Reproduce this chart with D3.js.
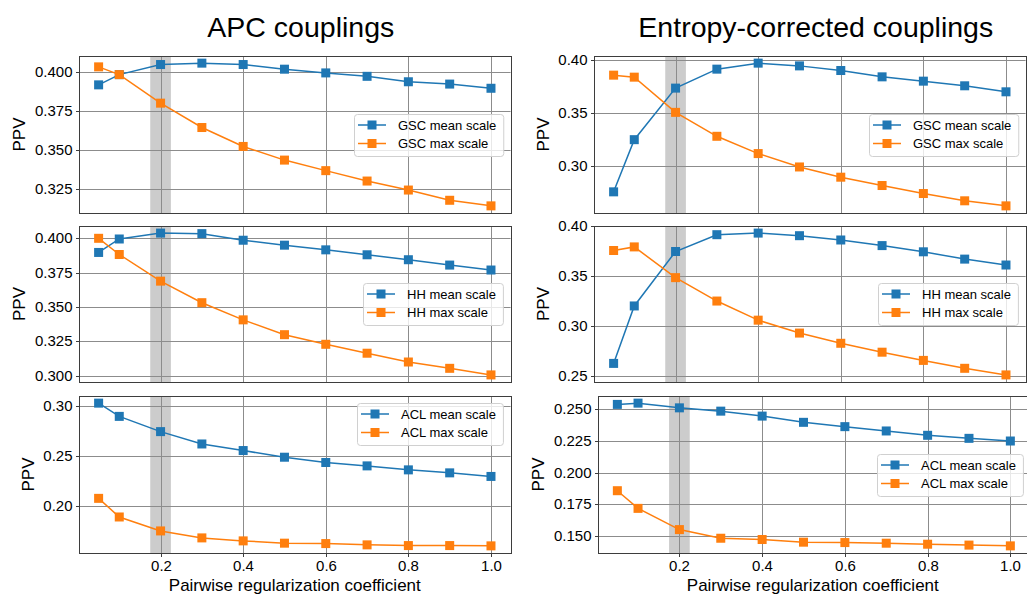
<!DOCTYPE html>
<html><head><meta charset="utf-8">
<script src="https://cdn.jsdelivr.net/npm/d3@7"></script>
<style>
body{margin:0;background:#fff}
svg{display:block}
text{font-family:"Liberation Sans",Arial,Helvetica,sans-serif;fill:#000}
</style>
</head><body>
<svg id="chart" width="1027" height="597"></svg>
<script>
// ---------------- data ----------------
const xValues = [0.05, 0.1, 0.2, 0.3, 0.4, 0.5, 0.6, 0.7, 0.8, 0.9, 1.0];
const xTicks = [0.2, 0.4, 0.6, 0.8, 1.0];
const columnTitles = ["APC couplings", "Entropy-corrected couplings"];
const datasetNames = ["GSC", "HH", "ACL"];
const seriesNames = ["mean scale", "max scale"];
const bandRange = [0.175, 0.225];

const apcGscMean = [0.3919, 0.3985, 0.4050, 0.4059, 0.4050, 0.4020, 0.3996, 0.3974, 0.3939, 0.3924, 0.3897];
const apcGscMax  = [0.4035, 0.3985, 0.3801, 0.3644, 0.3522, 0.3434, 0.3366, 0.3299, 0.3241, 0.3175, 0.3139];
const apcHhMean  = [0.3897, 0.3995, 0.4038, 0.4034, 0.3986, 0.3950, 0.3916, 0.3880, 0.3844, 0.3805, 0.3769];
const apcHhMax   = [0.4000, 0.3882, 0.3688, 0.3531, 0.3406, 0.3298, 0.3228, 0.3163, 0.3099, 0.3053, 0.3005];
const apcAclMean = [0.3033, 0.2900, 0.2747, 0.2623, 0.2557, 0.2490, 0.2437, 0.2403, 0.2363, 0.2333, 0.2297];
const apcAclMax  = [0.2077, 0.1890, 0.1750, 0.1680, 0.1650, 0.1627, 0.1623, 0.1610, 0.1603, 0.1603, 0.1600];

const entGscMean = [0.2751, 0.3246, 0.3735, 0.3915, 0.3972, 0.3946, 0.3902, 0.3842, 0.3801, 0.3757, 0.3700];
const entGscMax  = [0.3858, 0.3839, 0.3505, 0.3278, 0.3114, 0.2987, 0.2890, 0.2811, 0.2735, 0.2666, 0.2618];
const entHhMean  = [0.2625, 0.3199, 0.3743, 0.3911, 0.3927, 0.3901, 0.3858, 0.3802, 0.3740, 0.3667, 0.3608];
const entHhMax   = [0.3753, 0.3789, 0.3482, 0.3248, 0.3057, 0.2928, 0.2826, 0.2737, 0.2655, 0.2576, 0.2510];
const entAclMean = [0.2537, 0.2547, 0.2510, 0.2484, 0.2445, 0.2396, 0.2362, 0.2328, 0.2294, 0.2270, 0.2249];
const entAclMax  = [0.1858, 0.1719, 0.1552, 0.1484, 0.1474, 0.1453, 0.1450, 0.1445, 0.1437, 0.1430, 0.1424];

const yTicksApcGsc = [0.325, 0.350, 0.375, 0.400];
const yTicksApcHh  = [0.300, 0.325, 0.350, 0.375, 0.400];
const yTicksApcAcl = [0.20, 0.25, 0.30];
const yTicksEntGsc = [0.30, 0.35, 0.40];
const yTicksEntHh  = [0.25, 0.30, 0.35, 0.40];
const yTicksEntAcl = [0.150, 0.175, 0.200, 0.225, 0.250];
const yTickFormats = [[".3f", ".3f", ".2f"], [".2f", ".2f", ".3f"]];

const panelData = [
  [[apcGscMean, apcGscMax, yTicksApcGsc], [apcHhMean, apcHhMax, yTicksApcHh], [apcAclMean, apcAclMax, yTicksApcAcl]],
  [[entGscMean, entGscMax, yTicksEntGsc], [entHhMean, entHhMax, yTicksEntHh], [entAclMean, entAclMax, yTicksEntAcl]]
];

// ---------------- layout / style ----------------
const colors = ["#1f77b4", "#ff7f0e"];
const rows = [{y0: 56, y1: 213}, {y0: 226, y1: 382}, {y0: 396, y1: 553}];
const colBoxes = [
  [{x0: 79, x1: 510.6}, {x0: 79, x1: 510.6}, {x0: 79, x1: 510.6}],
  [{x0: 594, x1: 1025.6}, {x0: 594, x1: 1025.6}, {x0: 597.7, x1: 1030}]
];
const legendLocs = [["center right", "center right", "upper right"], ["center right", "center right", "center right"]];
const FONT = '"Liberation Sans",Arial,Helvetica,sans-serif';

const svg = d3.select("#chart");

function padded(vals) {
  const [a, b] = d3.extent(vals);
  const m = (b - a) * 0.05;
  return [a - m, b + m];
}
const snap = v => Math.round(v) + 0.5;

for (let c = 0; c < 2; c++) {
  // column title
  const cb = colBoxes[c][0];
  svg.append("text")
    .attr("x", (cb.x0 + cb.x1) / 2 + 6).attr("y", 37)
    .attr("text-anchor", "middle")
    .style("font-size", "28.5px")
    .text(columnTitles[c]);

  for (let r = 0; r < 3; r++) {
    const box = colBoxes[c][r];
    const {y0, y1} = rows[r];
    const [meanVals, maxVals, yTicks] = panelData[c][r];
    const x = d3.scaleLinear().domain(padded(xValues)).range([box.x0, box.x1]);
    const y = d3.scaleLinear().domain(padded(meanVals.concat(maxVals))).range([y1, y0]);
    const g = svg.append("g");

    // band
    g.append("rect")
      .attr("x", x(bandRange[0])).attr("y", y0)
      .attr("width", x(bandRange[1]) - x(bandRange[0]))
      .attr("height", y1 - y0)
      .attr("fill", "#808080").attr("fill-opacity", 0.4);

    // grid
    g.selectAll(".gx").data(xTicks).join("line")
      .attr("x1", d => snap(x(d))).attr("x2", d => snap(x(d)))
      .attr("y1", y0).attr("y2", y1)
      .attr("stroke", "#8c8c8c").attr("stroke-width", 1);
    g.selectAll(".gy").data(yTicks).join("line")
      .attr("y1", d => snap(y(d))).attr("y2", d => snap(y(d)))
      .attr("x1", box.x0).attr("x2", box.x1)
      .attr("stroke", "#8c8c8c").attr("stroke-width", 1);

    // series
    [meanVals, maxVals].forEach((vals, si) => {
      const pts = xValues.map((xv, i) => [xv, vals[i]]);
      g.append("path")
        .datum(pts)
        .attr("d", d3.line().x(d => x(d[0])).y(d => y(d[1])))
        .attr("fill", "none").attr("stroke", colors[si]).attr("stroke-width", 1.5);
      g.selectAll(null).data(pts).join("rect")
        .attr("x", d => x(d[0]) - 4.5).attr("y", d => y(d[1]) - 4.5)
        .attr("width", 9).attr("height", 9)
        .attr("fill", colors[si]);
    });

    // spines
    g.append("rect")
      .attr("x", snap(box.x0)).attr("y", snap(y0))
      .attr("width", Math.round(box.x1) - Math.round(box.x0)).attr("height", Math.round(y1) - Math.round(y0))
      .attr("fill", "none").attr("stroke", "#3d3d3d").attr("stroke-width", 1);

    // y axis
    const fmt = d3.format(yTickFormats[c][r]);
    const yAxis = svg.append("g")
      .attr("transform", `translate(${snap(box.x0)},0)`)
      .call(d3.axisLeft(y).tickValues(yTicks).tickFormat(fmt).tickSize(3.5).tickPadding(3.5));
    yAxis.select(".domain").remove();
    yAxis.selectAll(".tick line").attr("stroke", "#3d3d3d");
    yAxis.selectAll(".tick text").style("font-size", "15px").style("font-family", FONT).attr("fill", "#000");
    yAxis.selectAll(".tick").attr("transform", d => `translate(0,${snap(y(d))})`);

    const bb = yAxis.node().getBBox();
    svg.append("text")
      .attr("transform", `translate(${snap(box.x0) + bb.x - 9.5},${(y0 + y1) / 2}) rotate(-90)`)
      .attr("text-anchor", "middle")
      .style("font-size", "17px")
      .text("PPV");

    // x axis (bottom row)
    if (r === 2) {
      const xAxis = svg.append("g")
        .attr("transform", `translate(0,${snap(y1)})`)
        .call(d3.axisBottom(x).tickValues(xTicks).tickFormat(d3.format(".1f")).tickSize(3.5).tickPadding(3.5));
      xAxis.select(".domain").remove();
      xAxis.selectAll(".tick line").attr("stroke", "#3d3d3d");
      xAxis.selectAll(".tick").attr("transform", d => `translate(${snap(x(d))},0)`);
      xAxis.selectAll(".tick text").style("font-size", "15px").style("font-family", FONT).attr("fill", "#000");
      svg.append("text")
        .attr("x", (colBoxes[c][0].x0 + colBoxes[c][0].x1) / 2 + (c === 1 ? 3 : 0)).attr("y", 591)
        .attr("text-anchor", "middle")
        .style("font-size", "17px")
        .text("Pairwise regularization coefficient");
    }

    // legend
    const lg = svg.append("g");
    const labels = seriesNames.map(s => `${datasetNames[r]} ${s}`);
    const bg = lg.append("rect");
    const texts = labels.map((t, i) => lg.append("text")
      .attr("x", 44).attr("y", 11 + i * 18.5 + 4.6)
      .style("font-size", "13px").text(t));
    const tw = d3.max(texts, t => t.node().getComputedTextLength());
    const lw = 44 + tw + 7, lh = 42;
    labels.forEach((t, i) => {
      const ly = 11 + i * 18.5;
      lg.append("line").attr("x1", 4).attr("x2", 32).attr("y1", ly).attr("y2", ly)
        .attr("stroke", colors[i]).attr("stroke-width", 1.5);
      lg.append("rect").attr("x", 18 - 4.5).attr("y", ly - 4.5).attr("width", 9).attr("height", 9)
        .attr("fill", colors[i]);
    });
    bg.attr("x", 0.5).attr("y", 0.5).attr("width", lw).attr("height", lh)
      .attr("rx", 3).attr("fill", "#fff").attr("fill-opacity", 0.8)
      .attr("stroke", "#d0d0d0").attr("stroke-width", 1);
    const loc = legendLocs[c][r];
    const lx = Math.round(Math.min(box.x1, 1027 + 3) - 7.5 - lw);
    const ly = loc === "upper right" ? Math.round(y0 + 7) : Math.round((y0 + y1) / 2 - lh / 2);
    lg.attr("transform", `translate(${lx},${ly})`);
  }
}
</script>
</body></html>
